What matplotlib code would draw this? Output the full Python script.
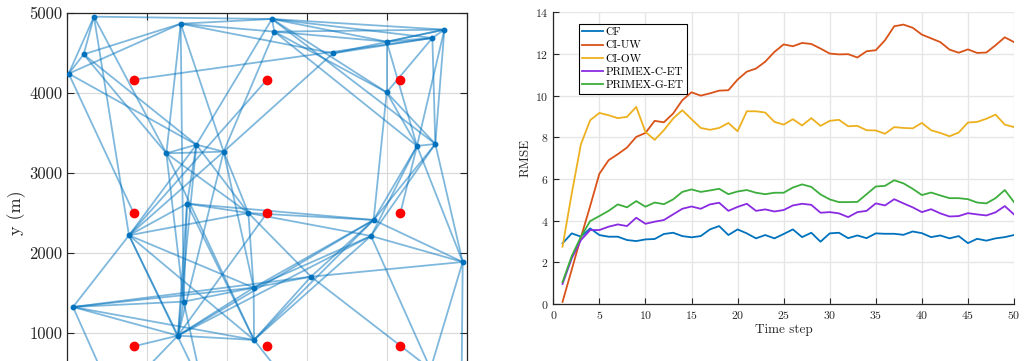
import matplotlib
matplotlib.use("Agg")
import matplotlib.pyplot as plt
import numpy as np

plt.rcParams['font.family'] = ['cmr10', 'DejaVu Serif']
plt.rcParams['axes.formatter.use_mathtext'] = True
plt.rcParams['mathtext.fontset'] = 'cm'

# ---------------- left panel data: sensor network ----------------
node_names = ["A", "B", "C", "D", "E", "F", "G", "H", "I", "J", "K", "L", "M", "N",
              "O", "P", "Q", "R", "S", "T", "U", "V", "W", "X", "Y", "Z", "AA", "AB",
              "BB", "CC", "DD", "EE", "FF"]
node_x = [337, 1421, 208, 21, 1242, 1617, 1958, 2562, 2592, 3325, 3996, 4567, 4717, 3996,
          4375, 4604, 1500, 775, 2267, 75, 1458, 1387, 2333, 2338, 3833, 3800, 4946, 3050,
          4544, 4930, 600, 1700, 2900]
node_y = [4954, 4866, 4483, 4242, 3246, 3354, 3267, 4925, 4767, 4496, 4642, 4688, 4792, 4008,
          3338, 3363, 2617, 2221, 2500, 1325, 1392, 967, 1567, 913, 2413, 2213, 1888, 1704,
          550, 120, 150, 300, 200]

edges = [
    ("A", "C"), ("A", "D"), ("A", "H"), ("A", "E"), ("A", "R"),
    ("B", "C"), ("B", "D"), ("B", "H"), ("B", "I"), ("B", "J"), ("B", "E"), ("B", "U"), ("B", "G"),
    ("C", "D"), ("C", "E"), ("D", "F"), ("C", "F"),
    ("E", "F"), ("E", "G"), ("F", "G"),
    ("E", "S"), ("E", "X"), ("E", "U"),
    ("F", "Q"), ("F", "S"), ("F", "V"), ("F", "R"), ("F", "H"),
    ("G", "J"), ("G", "R"), ("G", "S"), ("G", "W"), ("G", "V"), ("G", "I"),
    ("H", "I"), ("H", "K"), ("H", "L"), ("H", "M"), ("I", "K"), ("I", "M"), ("J", "L"), ("J", "M"),
    ("K", "L"), ("K", "M"), ("L", "M"),
    ("K", "N"), ("N", "L"), ("N", "O"), ("N", "P"), ("N", "Y"), ("H", "N"), ("I", "N"), ("I", "O"), ("H", "P"),
    ("K", "O"), ("M", "P"), ("L", "P"), ("M", "O"), ("O", "P"),
    ("O", "Y"), ("O", "Z"), ("P", "Y"), ("P", "Z"), ("P", "AA"), ("O", "AA"),
    ("Q", "U"), ("Q", "S"), ("Q", "Y"), ("Q", "X"), ("Q", "V"), ("Q", "R"),
    ("R", "T"), ("R", "S"), ("R", "W"), ("R", "V"), ("R", "X"),
    ("S", "Y"), ("S", "Z"), ("S", "AB"), ("S", "W"),
    ("W", "U"), ("W", "AB"), ("W", "X"), ("W", "T"), ("W", "Y"), ("W", "Z"), ("W", "V"),
    ("X", "V"), ("X", "T"), ("X", "Z"), ("X", "Y"), ("X", "AB"),
    ("AB", "AA"), ("AB", "BB"), ("AB", "Y"), ("Z", "AA"), ("Y", "AA"), ("Z", "BB"), ("AA", "BB"), ("AA", "CC"),
    ("V", "T"), ("V", "U"), ("V", "Y"), ("V", "Z"),
    ("T", "U"), ("T", "AB"), ("T", "DD"), ("V", "DD"), ("U", "EE"), ("X", "FF"), ("R", "EE"),
]

target_x = [833, 2500, 4167, 833, 2500, 4167, 833, 2500, 4167]
target_y = [4167, 4167, 4167, 2500, 2500, 2500, 833, 833, 833]
target_links = [(0, "L"), (1, "R"), (3, "D"), (4, "V"), (5, "O"), (6, "V")]

y_tick_values = [0, 1000, 2000, 3000, 4000, 5000]
y_tick_labels = ["", "1000", "2000", "3000", "4000", "5000"]

# ---------------- right panel data: RMSE ----------------
time_steps = list(range(1, 51))
rmse_cf = [2.91, 3.39, 3.23, 3.63, 3.31, 3.23, 3.23, 3.07, 3.02, 3.10,
           3.12, 3.36, 3.42, 3.26, 3.20, 3.26, 3.58, 3.74, 3.31, 3.58,
           3.39, 3.15, 3.31, 3.15, 3.36, 3.58, 3.21, 3.42, 2.99, 3.39,
           3.42, 3.16, 3.29, 3.16, 3.39, 3.37, 3.37, 3.32, 3.48, 3.40,
           3.21, 3.29, 3.15, 3.26, 2.92, 3.13, 3.04, 3.15, 3.21, 3.31]
rmse_ci_uw = [0.10, 1.65, 3.20, 4.70, 6.25, 6.90, 7.19, 7.51, 8.02, 8.21,
              8.79, 8.72, 9.14, 9.78, 10.16, 10.00, 10.11, 10.24, 10.26, 10.77,
              11.15, 11.30, 11.63, 12.10, 12.46, 12.37, 12.53, 12.48, 12.26, 12.02,
              11.98, 11.99, 11.83, 12.13, 12.18, 12.66, 13.33, 13.41, 13.26, 12.93,
              12.75, 12.57, 12.21, 12.06, 12.22, 12.05, 12.07, 12.42, 12.80, 12.57]
rmse_ci_ow = [2.75, 5.30, 7.67, 8.82, 9.17, 9.06, 8.92, 8.98, 9.46, 8.26,
              7.88, 8.34, 8.90, 9.30, 8.87, 8.45, 8.36, 8.45, 8.69, 8.29,
              9.25, 9.25, 9.19, 8.74, 8.61, 8.87, 8.57, 8.92, 8.55, 8.79,
              8.84, 8.53, 8.55, 8.34, 8.33, 8.17, 8.49, 8.45, 8.43, 8.69,
              8.34, 8.21, 8.05, 8.23, 8.71, 8.74, 8.89, 9.09, 8.61, 8.49]
rmse_primex_c = [0.96, 2.19, 3.07, 3.55, 3.55, 3.71, 3.82, 3.74, 4.14, 3.85,
                 3.95, 4.03, 4.30, 4.57, 4.68, 4.57, 4.78, 4.86, 4.47, 4.66,
                 4.81, 4.47, 4.54, 4.44, 4.51, 4.73, 4.81, 4.76, 4.38, 4.41,
                 4.35, 4.17, 4.41, 4.47, 4.83, 4.73, 5.03, 4.83, 4.64, 4.41,
                 4.55, 4.35, 4.20, 4.22, 4.36, 4.30, 4.25, 4.40, 4.70, 4.30]
rmse_primex_g = [1.05, 2.30, 3.23, 3.98, 4.22, 4.47, 4.78, 4.64, 4.94, 4.67,
                 4.87, 4.79, 5.02, 5.38, 5.50, 5.38, 5.45, 5.53, 5.27, 5.40,
                 5.47, 5.34, 5.27, 5.34, 5.34, 5.59, 5.74, 5.62, 5.26, 5.02,
                 4.89, 4.89, 4.90, 5.27, 5.64, 5.67, 5.94, 5.79, 5.53, 5.23,
                 5.35, 5.21, 5.08, 5.08, 5.03, 4.87, 4.83, 5.08, 5.47, 4.89]
series_labels = ["CF", "CI-UW", "CI-OW", "PRIMEX-C-ET", "PRIMEX-G-ET"]
series_colors = ["#0072BD", "#D95319", "#EDB120", "#8A2BE2", "#3DAE3D"]

# ---------------- figure ----------------
W, H = 1026, 361
fig = plt.figure(figsize=(W / 100, H / 100), dpi=100)
dark = (0.15, 0.15, 0.15)

# Left axes (extends below the bottom of the figure)
axL = fig.add_axes([67 / W, 1 - 413 / H, 400 / W, 400 / H])
idx = {n: i for i, n in enumerate(node_names)}
line_col = (0.0, 0.447, 0.741)
for a, b in edges:
    axL.plot([node_x[idx[a]], node_x[idx[b]]], [node_y[idx[a]], node_y[idx[b]]],
             color=line_col, alpha=0.5, lw=1.3, zorder=2)
for t, n in target_links:
    axL.plot([target_x[t], node_x[idx[n]]], [target_y[t], node_y[idx[n]]],
             color=line_col, alpha=0.5, lw=1.3, zorder=2)
axL.plot(node_x, node_y, 'o', color=line_col, ms=3.2, zorder=3, ls='none')
axL.plot(target_x, target_y, 'o', color='red', ms=6, zorder=4, ls='none')
axL.set_xlim(0, 5000)
axL.set_ylim(0, 5000)
axL.set_xticks(range(0, 5001, 1000))
axL.set_yticks(y_tick_values)
axL.set_yticklabels(y_tick_labels)
axL.set_xticklabels([])
axL.grid(True, color=(0.85, 0.85, 0.85), lw=0.8)
axL.set_axisbelow(True)
axL.tick_params(direction='in', length=5, top=True, right=True, labelsize=12,
                colors=dark, width=0.8)
for s in axL.spines.values():
    s.set_color(dark)
    s.set_linewidth(0.9)
axL.set_ylabel("y (m)", fontsize=13, color=dark, labelpad=2)

# Right axes
axR = fig.add_axes([553.3 / W, 1 - 304 / H, (1014 - 553.3) / W, (304 - 12.3) / H])
all_series = [rmse_cf, rmse_ci_uw, rmse_ci_ow, rmse_primex_c, rmse_primex_g]
for vals, lab, col in zip(all_series, series_labels, series_colors):
    axR.plot(time_steps, vals, color=col, lw=1.3, label=lab)
axR.set_xlim(0, 50)
axR.set_ylim(0, 14)
axR.set_xticks(range(0, 51, 5))
axR.set_yticks(range(0, 15, 2))
axR.grid(True, color=(0.9, 0.9, 0.9), lw=1.0)
axR.set_axisbelow(True)
axR.spines['top'].set_visible(False)
axR.spines['right'].set_visible(False)
for s in ['left', 'bottom']:
    axR.spines[s].set_color(dark)
    axR.spines[s].set_linewidth(0.9)
axR.tick_params(direction='in', length=4, labelsize=8.5, colors=dark, width=0.8)
axR.set_xlabel("Time step", fontsize=9.5, color=dark, labelpad=2)
axR.set_ylabel("RMSE", fontsize=9.5, color=dark, labelpad=2)
leg = axR.legend(loc='upper left', bbox_to_anchor=(0.055, 0.96), fontsize=8.1,
                 frameon=True, fancybox=False, edgecolor='black', framealpha=1,
                 handlelength=1.9, handletextpad=0.2, borderpad=0.3, labelspacing=0.3,
                 borderaxespad=0)
leg.get_frame().set_linewidth(0.8)

fig.savefig("out.png", dpi=100)
